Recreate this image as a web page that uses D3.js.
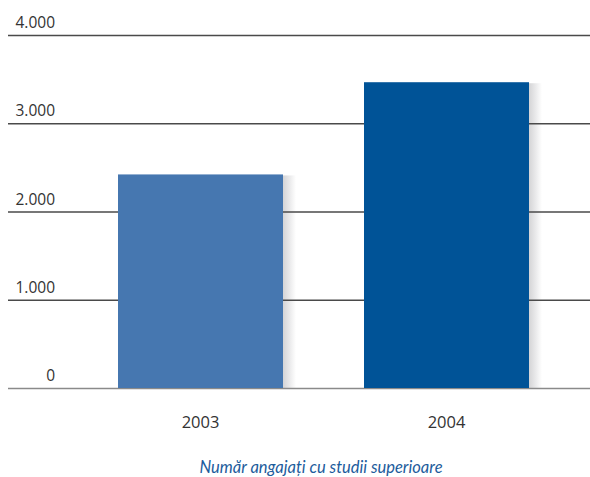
<!DOCTYPE html>
<html>
<head>
<meta charset="utf-8">
<script src="https://cdn.jsdelivr.net/npm/d3@7"></script>
<style>
  body { margin: 0; background: #fff; }
</style>
</head>
<body>
<div class="dataviz"><svg></svg></div>
<script>
const years = ["2003", "2004"]
const values = [2420, 3465]
const barColors = ["#4677b0", "#005397"]
const yTicks = [0, 1000, 2000, 3000, 4000]
const title = "Număr angajați cu studii superioare"

const width = 590, height = 477
const margin = { top: 35, right: 0, bottom: 89, left: 8 }

const svg = d3.select(".dataviz > svg")
    .attr("width", width)
    .attr("height", height)

const defs = svg.append("defs")
const grad = defs.append("linearGradient").attr("id", "shadow")
grad.append("stop").attr("offset", "0%").attr("stop-color", "#d4d4d6")
grad.append("stop").attr("offset", "100%").attr("stop-color", "#ffffff")

const x = d3.scaleBand()
    .domain(years)
    .range([118, 529])
    .paddingInner(81 / 246)
    .paddingOuter(0)

const y = d3.scaleLinear()
    .domain([0, 4000])
    .range([height - margin.bottom, margin.top])

const fmt = d => d3.format(",")(d).replace(/,/g, ".")

// shadows
svg.append("g")
  .selectAll("rect")
  .data(values)
  .join("rect")
    .attr("x", (d, i) => x(years[i]) + x.bandwidth())
    .attr("y", d => y(d) + 1)
    .attr("width", 13)
    .attr("height", d => y(0) - y(d) - 1)
    .attr("fill", "url(#shadow)")

// grid
svg.append("g")
  .selectAll("line")
  .data(yTicks)
  .join("line")
    .attr("x1", margin.left)
    .attr("x2", width)
    .attr("y1", d => y(d) + 0.5)
    .attr("y2", d => y(d) + 0.5)
    .attr("stroke", d => d === 0 ? "#8a8a8a" : "#4a4a4a")
    .attr("stroke-width", 1.4)

svg.append("g")
  .selectAll("text")
  .data(yTicks)
  .join("text")
    .attr("x", 55)
    .attr("y", d => y(d) - 7)
    .attr("text-anchor", "end")
    .attr("font-family", "Open Sans, sans-serif")
    .attr("font-size", 15.5)
    .attr("fill", "#333")
    .text(fmt)

// bars
svg.append("g")
  .selectAll("rect")
  .data(values)
  .join("rect")
    .attr("x", (d, i) => x(years[i]))
    .attr("y", d => y(d))
    .attr("width", x.bandwidth())
    .attr("height", d => y(0) - y(d))
    .attr("fill", (d, i) => barColors[i])

svg.append("g")
  .selectAll("text")
  .data(years)
  .join("text")
    .attr("x", d => x(d) + x.bandwidth() / 2)
    .attr("y", 428)
    .attr("text-anchor", "middle")
    .attr("font-family", "Open Sans, sans-serif")
    .attr("font-size", 16.5)
    .attr("fill", "#333")
    .text(d => d)

svg.append("text")
    .attr("x", 321)
    .attr("y", 473)
    .attr("text-anchor", "middle")
    .attr("font-family", "Lato, sans-serif")
    .attr("font-style", "italic")
    .attr("font-size", 16.5)
    .attr("fill", "#1d5c9c")
    .text(title)
</script>
</body>
</html>
